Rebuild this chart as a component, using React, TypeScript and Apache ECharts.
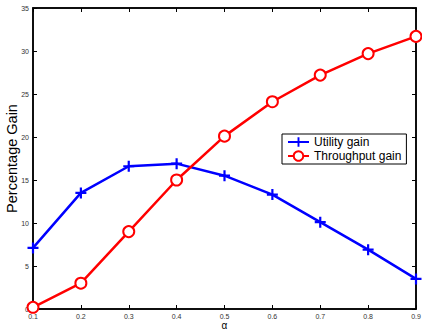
import React, { useEffect, useRef } from "react";
import * as echarts from "echarts";

const alphas = ["0.1", "0.2", "0.3", "0.4", "0.5", "0.6", "0.7", "0.8", "0.9"];
const utilityGain = [7.1, 13.5, 16.6, 16.9, 15.5, 13.3, 10.1, 6.9, 3.5];
const throughputGain = [0.2, 3.0, 9.0, 15.0, 20.1, 24.1, 27.2, 29.7, 31.7];
const yMin = 0;
const yMax = 35;
const yInterval = 5;

const plusPath = "path://M4,0H6V4H10V6H6V10H4V6H0V4H4Z";

const mkLine = () => ({ show: true, onZero: false, lineStyle: { color: "#000000", width: 1.5, type: "solid" } });
const mkTick = () => ({ show: true, inside: true, length: 4, lineStyle: { color: "#000000", width: 1, type: "solid" } });

export default function App() {
  const ref = useRef<HTMLDivElement>(null);
  useEffect(() => {
    if (!ref.current) return;
    const chart = echarts.init(ref.current, null, { renderer: "svg" });
    const labelStyle = { fontFamily: "Liberation Sans, Arial", fontSize: 7, color: "#333" };
    chart.setOption({
      animation: false,
      backgroundColor: "#fff",
      textStyle: { fontFamily: "Liberation Sans, Arial" },
      grid: {
        left: 33,
        top: 8,
        right: 6,
        bottom: 22,
        containLabel: false,
        outerBoundsMode: "none",
        show: true,
        borderColor: "#000",
        borderWidth: 1.5,
        backgroundColor: "transparent",
      },
      legend: {
        orient: "vertical",
        left: 282,
        top: 134,
        itemWidth: 21,
        itemHeight: 12,
        itemGap: 2,
        padding: [2, 5, 2, 5],
        borderColor: "#000",
        borderWidth: 1,
        borderRadius: 0,
        backgroundColor: "#fff",
        textStyle: { fontFamily: "Liberation Sans, Arial", fontSize: 12, color: "#000" },
        data: ["Utility gain", "Throughput gain"],
      },
      xAxis: [
        {
          type: "category",
          data: alphas,
          boundaryGap: false,
          axisLine: mkLine(),
          axisTick: mkTick(),
          axisLabel: { ...labelStyle, margin: 4 },
          splitLine: { show: false },
          name: "α",
          nameLocation: "middle",
          nameMoveOverlap: false,
          nameGap: 11,
          nameTextStyle: { fontFamily: "Liberation Sans, Arial", fontSize: 10, color: "#000" },
        },
        {
          type: "category",
          data: alphas,
          boundaryGap: false,
          position: "top",
          axisLine: mkLine(),
          axisTick: mkTick(),
          axisLabel: { show: false },
        },
      ],
      yAxis: [
        {
          type: "value",
          min: yMin,
          max: yMax,
          interval: yInterval,
          axisLine: mkLine(),
          axisTick: mkTick(),
          axisLabel: { ...labelStyle, margin: 4 },
          splitLine: { show: false },
          name: "Percentage Gain",
          nameLocation: "middle",
          nameMoveOverlap: false,
          nameGap: 14,
          nameTextStyle: { fontFamily: "Liberation Sans, Arial", fontSize: 14.5, color: "#000" },
        },
        {
          type: "value",
          min: yMin,
          max: yMax,
          interval: yInterval,
          position: "right",
          axisLine: mkLine(),
          axisTick: mkTick(),
          axisLabel: { show: false },
          splitLine: { show: false },
        },
      ],
      series: [
        {
          name: "Utility gain",
          type: "line",
          data: utilityGain,
          symbol: plusPath,
          symbolSize: 11,
          lineStyle: { color: "#0000ff", width: 2.5 },
          itemStyle: { color: "#0000ff" },
          z: 2,
        },
        {
          name: "Throughput gain",
          type: "line",
          data: throughputGain,
          symbol: "emptyCircle",
          symbolSize: 11,
          lineStyle: { color: "#ff0000", width: 2.5 },
          itemStyle: { color: "#ff0000", borderColor: "#ff0000", borderWidth: 2 },
          z: 3,
        },
      ],
    });
    return () => chart.dispose();
  }, []);
  return <div ref={ref} style={{ position: "fixed", left: 0, top: 0, width: 422, height: 331 }} />;
}
